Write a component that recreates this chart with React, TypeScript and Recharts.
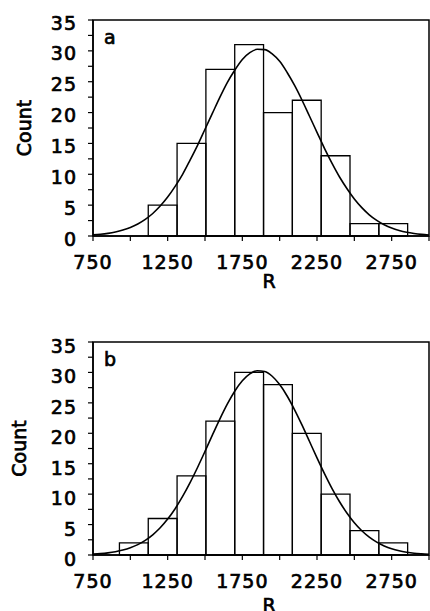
import React from 'react';
import { ComposedChart, Line, XAxis, YAxis, ReferenceArea, Label } from 'recharts';

const binEdges = [927, 1120, 1313, 1506, 1699, 1892, 2085, 2278, 2471, 2664, 2857];
const countsA = [0, 5, 15, 27, 31, 20, 22, 13, 2, 2];
const countsB = [2, 6, 13, 22, 30, 28, 20, 10, 4, 2];

const curveR = [750, 800, 850, 900, 950, 1000, 1050, 1100, 1150, 1200, 1250, 1300, 1350, 1400, 1450, 1500, 1550, 1600, 1650, 1700, 1750, 1800, 1850, 1900, 1950, 2000, 2050, 2100, 2150, 2200, 2250, 2300, 2350, 2400, 2450, 2500, 2550, 2600, 2650, 2700, 2750, 2800, 2850, 2900, 2950, 3000];
const curveA = [0.18, 0.28, 0.43, 0.65, 0.96, 1.38, 1.95, 2.69, 3.65, 4.85, 6.31, 8.04, 10.0, 12.3, 14.7, 17.3, 19.9, 22.5, 24.9, 26.9, 28.6, 29.7, 30.25, 30.2, 29.5, 28.3, 26.5, 24.4, 22.0, 19.4, 16.8, 14.2, 11.8, 9.6, 7.7, 6.0, 4.6, 3.44, 2.53, 1.82, 1.28, 0.89, 0.6, 0.4, 0.26, 0.17];
const curveB = [0.14, 0.22, 0.35, 0.54, 0.81, 1.19, 1.71, 2.41, 3.32, 4.47, 5.9, 7.61, 9.62, 11.89, 14.38, 17.02, 19.73, 22.37, 24.82, 26.94, 28.62, 29.75, 30.27, 30.14, 29.37, 28.0, 26.13, 23.86, 21.33, 18.65, 15.96, 13.37, 10.95, 8.79, 6.9, 5.3, 3.98, 2.93, 2.11, 1.49, 1.02, 0.69, 0.46, 0.29, 0.19, 0.12];

const xTicks = [750, 1000, 1250, 1500, 1750, 2000, 2250, 2500, 2750, 3000];
const xLabels = [750, 1250, 1750, 2250, 2750];
const yTicks = [0, 2.5, 5, 7.5, 10, 12.5, 15, 17.5, 20, 22.5, 25, 27.5, 30, 32.5, 35];
const yLabels = [0, 5, 10, 15, 20, 25, 30, 35];

const FONT = "'DejaVu Sans', 'Liberation Sans', sans-serif";
const FS = 19;
const textStyle = {
  fontFamily: FONT,
  fontSize: FS,
  fill: '#000',
  stroke: '#000',
  strokeWidth: 0.7,
};

type PanelProps = {
  counts: number[];
  curve: number[];
  letter: string;
  height: number;
  top: number;
  bottom: number;
  yDy: number;
  countX: number;
  rDy: number;
};

function Panel({ counts, curve, letter, height, top, bottom, yDy, countX, rDy }: PanelProps) {
  const data = curveR.map((r, i) => ({ r, c: curve[i] }));

  const XTick = (props: any) => {
    const { x, y, payload } = props;
    if (!xLabels.includes(payload.value)) return <g />;
    return (
      <text x={x} y={y} dy={28} textAnchor="middle" {...textStyle} letterSpacing={1}>
        {payload.value}
      </text>
    );
  };

  const YTick = (props: any) => {
    const { x, y, payload } = props;
    if (!yLabels.includes(payload.value)) return <g />;
    return (
      <text x={x} y={y} dy={yDy} textAnchor="end" {...textStyle} letterSpacing={1}>
        {payload.value}
      </text>
    );
  };

  const CountLabel = (props: any) => {
    const vb = props.viewBox || { x: 0, y: top, width: 93, height: 216 };
    const cy = vb.y + vb.height / 2;
    return (
      <text x={countX} y={cy} transform={`rotate(-90 ${countX} ${cy})`} textAnchor="middle" {...textStyle}>
        Count
      </text>
    );
  };

  const RLabel = (props: any) => {
    const vb = props.viewBox || { x: 93, y: 236, width: 336, height: 40 };
    return (
      <text x={vb.x + vb.width / 2 + 8} y={vb.y + vb.height + rDy} textAnchor="middle" {...textStyle}>
        R
      </text>
    );
  };

  const LetterLabel = (props: any) => {
    const vb = props.viewBox || { x: 93, y: top };
    return (
      <text x={vb.x + 11} y={vb.y + 24} {...textStyle}>
        {letter}
      </text>
    );
  };

  return (
    <ComposedChart width={430} height={height} data={data} margin={{ top, right: 1, bottom, left: 0 }}>
      <XAxis
        dataKey="r"
        type="number"
        domain={[750, 3000]}
        ticks={xTicks}
        interval={0}
        allowDataOverflow
        height={40}
        tickSize={5}
        tickMargin={0}
        tick={XTick}
        axisLine={{ stroke: '#000', strokeWidth: 1.5 }}
        tickLine={{ stroke: '#000', strokeWidth: 1.2 }}
      >
        <Label content={RLabel} />
      </XAxis>
      <YAxis
        type="number"
        domain={[0, 35]}
        ticks={yTicks}
        interval={0}
        allowDataOverflow
        width={93}
        tickSize={5}
        tickMargin={11}
        tick={YTick}
        axisLine={{ stroke: '#000', strokeWidth: 1.5 }}
        tickLine={{ stroke: '#000', strokeWidth: 1.2 }}
      >
        <Label content={CountLabel} />
      </YAxis>
      <ReferenceArea x1={750} x2={3000} y1={0} y2={35} fill="none" stroke="#000" strokeWidth={1.5} label={LetterLabel} />
      {counts.map((c, i) =>
        c > 0 ? (
          <ReferenceArea
            key={i}
            x1={binEdges[i]}
            x2={binEdges[i + 1]}
            y1={0}
            y2={c}
            fill="none"
            stroke="#000"
            strokeWidth={1.3}
            fillOpacity={0}
          />
        ) : null
      )}
      <Line dataKey="c" type="monotone" dot={false} stroke="#000" strokeWidth={1.6} isAnimationActive={false} />
    </ComposedChart>
  );
}

export default function App() {
  return (
    <div style={{ position: 'absolute', left: 0, top: 0, width: 430, height: 611, background: '#fff', overflow: 'hidden' }}>
      <div style={{ position: 'absolute', left: 0, top: 0 }}>
        <Panel counts={countsA} curve={curveA} letter="a" height={300} top={20} bottom={24} yDy={9.5} countX={31} rDy={11.5} />
      </div>
      <div style={{ position: 'absolute', left: 0, top: 320 }}>
        <Panel counts={countsB} curve={curveB} letter="b" height={291} top={22} bottom={16} yDy={11} countX={26} rDy={17} />
      </div>
    </div>
  );
}
